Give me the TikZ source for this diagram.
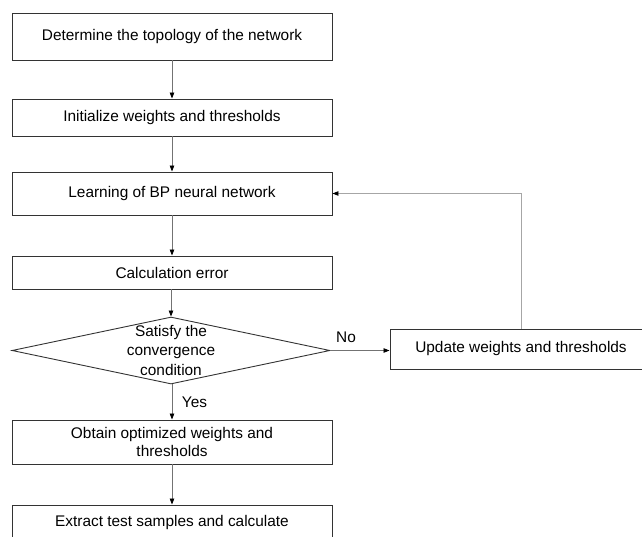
\documentclass[tikz,border=0pt]{standalone}
\usepackage{fontspec}
\setmainfont{Liberation Sans}
\usetikzlibrary{arrows.meta,shapes.geometric}
\begin{document}
\begin{tikzpicture}[x=1pt,y=-1pt,
  box/.style={draw=black!80, line width=0.9pt, rectangle, minimum width=320pt, inner sep=0pt, align=center, font=\fontsize{15.4}{18}\selectfont},
  conn/.style={draw=black!55, line width=0.8pt, -{Triangle[length=6pt,width=4.5pt,fill=black,color=black]}},
  fb/.style={draw=black!35, line width=0.9pt, -{Triangle[length=6pt,width=4.5pt,fill=black,color=black]}},
  lbl/.style={font=\fontsize{15.4}{18}\selectfont, inner sep=0pt}
]
\useasboundingbox (0,0) rectangle (642,537);
\clip (0,0) rectangle (642,537);
\node[box, minimum height=47pt] (b1) at (172,36.5) {Determine the topology of the network};
\node[box, minimum height=37pt] (b2) at (172,117.5) {Initialize weights and thresholds};
\node[box, minimum height=43pt] (b3) at (172,193.5) {Learning of BP neural network};
\node[box, minimum height=33pt] (b4) at (172,272.5) {Calculation error};
\node[draw=black!80, line width=0.9pt, diamond, minimum width=318pt, minimum height=67pt, inner sep=0pt] (d) at (171,350.5) {};
\node[lbl, align=center, font=\fontsize{15.4}{19.5}\selectfont] (dt) at (171,350) {Satisfy the\\convergence\\condition};
\node[box, minimum height=44pt, font=\fontsize{15.4}{17.5}\selectfont] (b5) at (172,442) {Obtain optimized weights and\\thresholds};
\node[box, minimum height=36pt] (b6) at (172,523) {Extract test samples and calculate};
\node[box, minimum width=262pt, minimum height=40pt] (up) at (521,349) {Update weights and thresholds};
\draw[conn] (b1) -- (b2);
\draw[conn] (b2) -- (b3);
\draw[conn] (b3) -- (b4);
\draw[conn] (b4.south -| d.north) -- (d.north);
\draw[conn] (d.south -| b5.north) -- (b5.north);
\draw[conn] (b5) -- (b6);
\draw[conn] (d.east) -- (d.east -| up.west);
\draw[fb] (up.north) |- (b3.east);
\node[lbl] (no) at (346,337) {No};
\node[lbl] (yes) at (194.5,402) {Yes};
\end{tikzpicture}
\end{document}
